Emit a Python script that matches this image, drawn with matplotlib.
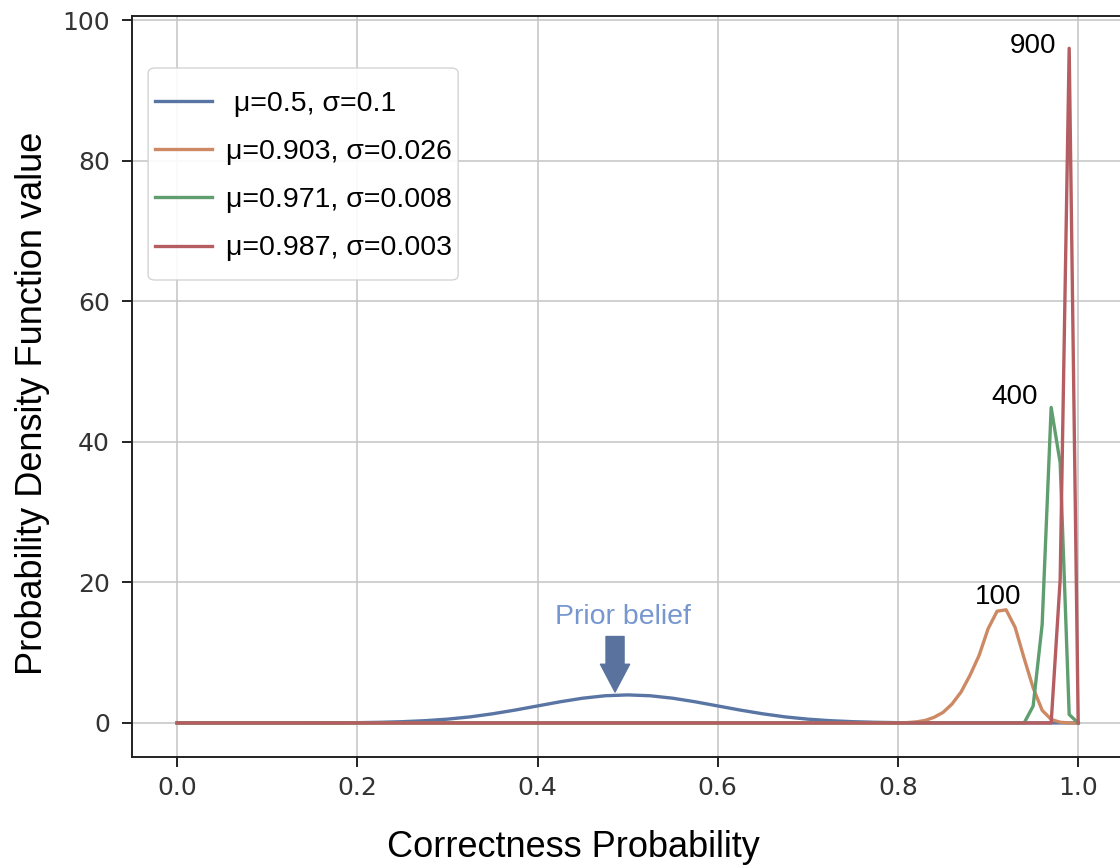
import matplotlib
matplotlib.use("Agg")
import matplotlib.pyplot as plt
from matplotlib.patches import FancyBboxPatch

# x positions / pdf values
BLUE_X = [0.0, 0.15, 0.2, 0.225, 0.25, 0.275, 0.3, 0.325, 0.35, 0.375, 0.4, 0.425, 0.45, 0.475, 0.5,
          0.525, 0.55, 0.575, 0.6, 0.625, 0.65, 0.675, 0.7, 0.725, 0.75, 0.775, 0.8, 0.85, 1.0]
BLUE_Y = [0.0, 0.01, 0.04, 0.09, 0.18, 0.32, 0.54, 0.86, 1.30, 1.83, 2.42, 3.01, 3.52, 3.87, 3.99,
          3.87, 3.52, 3.01, 2.42, 1.83, 1.30, 0.86, 0.54, 0.32, 0.18, 0.09, 0.04, 0.01, 0.0]

ORANGE_X = [0.0, 0.80, 0.81, 0.82, 0.83, 0.84, 0.85, 0.86, 0.87, 0.88, 0.89, 0.90, 0.91, 0.92,
            0.93, 0.94, 0.95, 0.96, 0.97, 0.98, 0.99, 1.0]
ORANGE_Y = [0.0, 0.0, 0.05, 0.15, 0.35, 0.8, 1.5, 2.7, 4.4, 6.8, 9.6, 13.4, 15.9, 16.1,
            13.6, 9.2, 5.0, 1.8, 0.5, 0.1, 0.0, 0.0]

GREEN_X = [0.0, 0.94, 0.95, 0.96, 0.97, 0.98, 0.99, 1.0]
GREEN_Y = [0.0, 0.0, 2.4, 14.0, 44.9, 37.0, 1.2, 0.0]

RED_X = [0.0, 0.97, 0.98, 0.99, 1.0]
RED_Y = [0.0, 0.0, 20.4, 96.0, 0.0]

LABELS = [" μ=0.5, σ=0.1", "μ=0.903, σ=0.026", "μ=0.971, σ=0.008", "μ=0.987, σ=0.003"]
COLORS = ["#5975a4", "#cc8963", "#5f9e6e", "#b55d60"]

# sample-count annotations: (text, x, y)
COUNT_NOTES = [("900", 0.950, 96.3), ("400", 0.930, 46.4), ("100", 0.911, 17.9)]

fig = plt.figure(figsize=(11.2, 8.65), dpi=100)
ax = fig.add_axes([0.1179, 0.1249, 0.885, 0.8566])

series = [(BLUE_X, BLUE_Y), (ORANGE_X, ORANGE_Y), (GREEN_X, GREEN_Y), (RED_X, RED_Y)]
for (xs, ys), lab, col in zip(series, LABELS, COLORS):
    ax.plot(xs, ys, color=col, linewidth=2.4, label=lab)

ax.set_xlim(-0.05, 1.05)
ax.set_ylim(-4.84, 100.6)
ax.set_xticks([0.0, 0.2, 0.4, 0.6, 0.8, 1.0])
ax.set_yticks([0, 20, 40, 60, 80, 100])

ax.grid(True, color="#c4c4c4", linewidth=1.1)
ax.set_axisbelow(True)
for sp in ax.spines.values():
    sp.set_color("#222222")
    sp.set_linewidth(1.4)
ax.tick_params(axis="both", direction="out", length=7, width=1.4, color="#222222",
               labelsize=18, labelcolor="#333333")
ax.tick_params(axis="y", pad=9)
ax.tick_params(axis="x", pad=7)

ax.set_xlabel("Correctness Probability", fontsize=26, family="Liberation Sans")
ax.set_ylabel("Probability Density Function value", fontsize=26, family="Liberation Sans")
ax.xaxis.set_label_coords(0.445, -0.099)
ax.yaxis.set_label_coords(-0.0825, 0.477)

for txt, x, y in COUNT_NOTES:
    ax.text(x, y, txt, fontsize=20, family="Liberation Sans", ha="center", va="center", color="black")

ax.text(0.495, 15.1, "Prior belief", fontsize=20.5, family="Liberation Sans", ha="center", va="center",
        color="#7697cf")
ax.annotate("", xy=(0.486, 4.4), xytext=(0.486, 12.3),
            arrowprops=dict(arrowstyle="simple,head_length=2.0,head_width=2.1,tail_width=1.3",
                            color="#5a739e", shrinkA=0, shrinkB=0, mutation_scale=10))

# legend frame drawn separately (wider vertical padding than horizontal)
frame = FancyBboxPatch((0.0162, 0.6437), 0.3128, 0.2861, transform=ax.transAxes,
                       boxstyle="round,pad=0,rounding_size=0.007",
                       facecolor="white", edgecolor="#d0d0d0", linewidth=1.0, alpha=0.9, zorder=4.5)
ax.add_patch(frame)
ax.legend(loc="upper left", bbox_to_anchor=(0.0146, 0.9105),
          prop={"family": "Liberation Sans", "size": 20.5}, labelspacing=0.78,
          handlelength=2.0, handletextpad=0.5, frameon=False,
          borderpad=0.3, borderaxespad=0)

fig.savefig("out.png", dpi=100)
